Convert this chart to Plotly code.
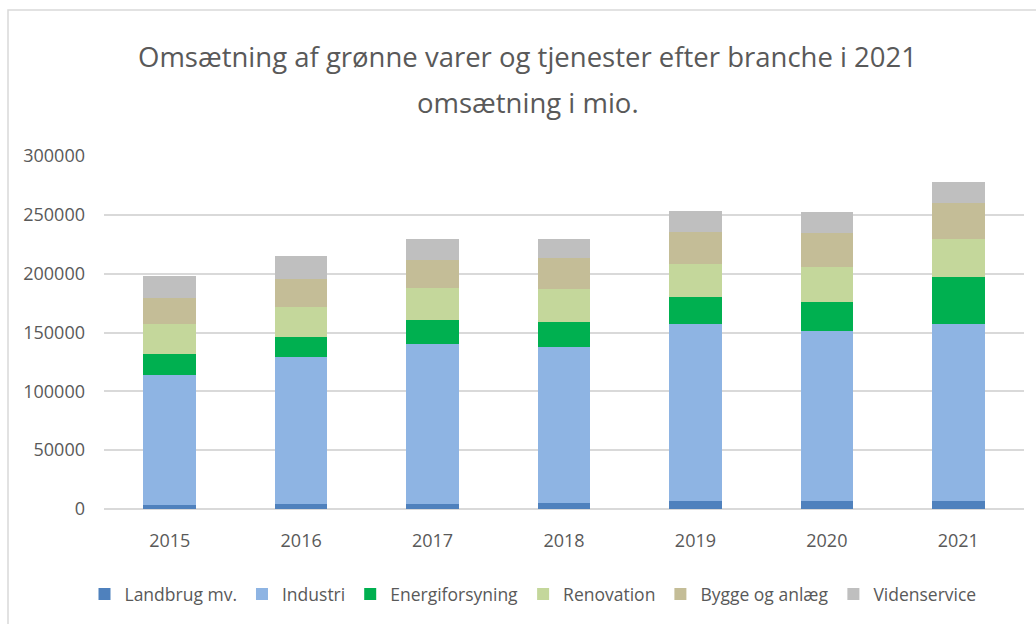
import plotly.graph_objects as go

years = ["2015", "2016", "2017", "2018", "2019", "2020", "2021"]
landbrug = [3100, 4000, 4200, 5400, 6500, 6500, 6500]
industri = [110700, 125100, 135900, 132500, 151100, 144400, 151100]
energi = [17600, 17500, 20600, 20900, 22900, 25100, 39300]
renovation = [26200, 24900, 27200, 27900, 28000, 29400, 32200]
bygge = [21800, 24300, 24000, 26600, 27100, 29400, 30800]
viden = [18300, 19200, 17200, 15800, 17500, 17500, 18400]

series = [
    ("Landbrug mv.", landbrug, "#4f81bd"),
    ("Industri", industri, "#8eb4e3"),
    ("Energiforsyning", energi, "#00b050"),
    ("Renovation", renovation, "#c4d79b"),
    ("Bygge og anlæg", bygge, "#c4bd97"),
    ("Videnservice", viden, "#bfbfbf"),
]

FONT = "Open Sans, Noto Sans, sans-serif"
GREY = "#595959"

fig = go.Figure()
for name, vals, col in series:
    fig.add_trace(go.Bar(x=years, y=vals, name=name, marker=dict(color=col, line=dict(width=0))))

W, H = 1036, 624
L, R, T, B = 104, 12, 156, 115
pw = W - L - R
ph = H - T - B

def px_x(px):
    return (px - L) / pw

def px_y(py):
    return (H - B - py) / ph

fig.update_layout(
    width=W, height=H,
    margin=dict(l=L, r=R, t=T, b=B),
    barmode="stack",
    bargap=0.6,
    plot_bgcolor="white",
    paper_bgcolor="white",
    font=dict(family=FONT, size=18, color=GREY),
    title=dict(
        text="Omsætning af grønne varer og tjenester efter branche i 2021",
        x=527.5 / W, xanchor="center",
        y=1 - 57 / H, yanchor="middle",
        font=dict(family=FONT, size=27.5, color=GREY),
    ),
    showlegend=True,
    legend=dict(
        orientation="h",
        x=px_x(533), xanchor="center",
        y=px_y(594), yanchor="middle",
        font=dict(family=FONT, size=17.5, color=GREY),
        itemwidth=30,
        traceorder="normal",
    ),
    xaxis=dict(
        showgrid=False, showline=False, ticks="",
        tickfont=dict(family=FONT, size=18, color=GREY),
        ticklabelstandoff=19,
    ),
    yaxis=dict(
        range=[0, 300000],
        tickvals=[0, 50000, 100000, 150000, 200000, 250000, 300000],
        ticktext=["0", "50000", "100000", "150000", "200000", "250000", "300000"],
        showgrid=True, gridcolor="#d9d9d9", gridwidth=1.5,
        zeroline=True, zerolinecolor="#d9d9d9", zerolinewidth=1.5,
        showline=False, ticks="",
        tickfont=dict(family=FONT, size=18, color=GREY),
        ticklabelstandoff=18,
    ),
    annotations=[
        dict(
            text="omsætning i mio.", showarrow=False,
            xref="paper", yref="paper",
            x=px_x(528), y=px_y(103), xanchor="center", yanchor="middle",
            font=dict(family=FONT, size=27.5, color=GREY),
        )
    ],
    shapes=[
        dict(
            type="rect", xref="paper", yref="paper",
            x0=px_x(8), x1=px_x(1045), y0=px_y(640), y1=px_y(10),
            line=dict(color="#d9d9d9", width=1.5), fillcolor="rgba(0,0,0,0)",
            layer="below",
        )
    ],
)

fig.write_html(
    "out.html",
    config={"displayModeBar": False},
    post_script="document.body.style.margin='0';",
)
